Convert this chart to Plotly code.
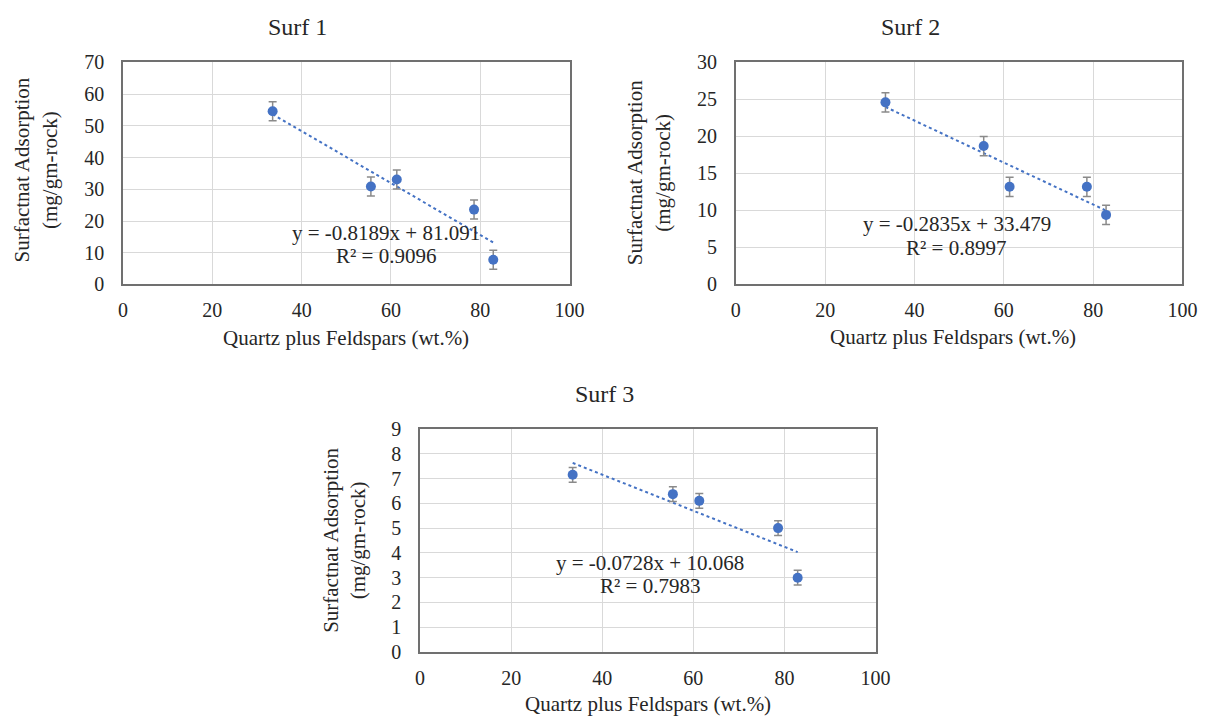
import plotly.graph_objects as go

# ---------------- data ----------------
quartz_feldspar = [33.5, 55.5, 61.3, 78.6, 82.9]

surf1_ads = [54.6, 30.9, 33.1, 23.6, 7.8]
surf1_err = [3.0, 3.0, 3.0, 3.0, 3.0]
surf2_ads = [24.6, 18.7, 13.2, 13.2, 9.4]
surf2_err = [1.3, 1.3, 1.3, 1.3, 1.3]
surf3_ads = [7.15, 6.37, 6.10, 5.00, 3.00]
surf3_err = [0.3, 0.3, 0.3, 0.3, 0.3]

titles = ["Surf 1", "Surf 2", "Surf 3"]
slopes = [-0.8189, -0.2835, -0.0728]
intercepts = [81.091, 33.479, 10.068]
r2 = ["0.9096", "0.8997", "0.7983"]
y_max = [70, 30, 9]
y_step = [10, 5, 1]
x_ticks = [0, 20, 40, 60, 80, 100]

x_title = "Quartz plus Feldspars (wt.%)"
y_title = "Surfactnat Adsorption<br>(mg/gm-rock)"

# ---------------- layout geometry (pixels) ----------------
W, H = 1224, 728
FONT = "Liberation Serif"
BLUE = "#4472C4"
TXT = "#262626"

# plot frames: (left, right, top, bottom)
frames = [(120, 574, 53, 282), (743, 1197, 53, 282), (422, 885, 431, 661)]
title_pos = [(297, 17), (921, 17), (609, 395)]
xtitle_pos = [(347, 337), (964, 336), (654, 715)]
ytitle_pos = [(31, 164), (655, 167), (345, 546)]
eq1_pos = [(387, 229), (968, 220), (656, 569)]
eq2_pos = [(387, 253), (967, 244), (656, 593)]

series = [(surf1_ads, surf1_err), (surf2_ads, surf2_err), (surf3_ads, surf3_err)]


def px(x, y):
    return x / W, 1 - y / H


fig = go.Figure()
annotations = []
layout_axes = {}


def add_text(text, pos, size, angle=0):
    x, y = px(*pos)
    annotations.append(dict(text=text, x=x, y=y, xref="paper", yref="paper",
                            showarrow=False, xanchor="center", yanchor="middle",
                            textangle=angle,
                            font=dict(family=FONT, size=size, color=TXT)))


for i, (ads, err) in enumerate(series):
    n = "" if i == 0 else str(i + 1)
    xa, ya = "x" + n, "y" + n
    l, r, t, b = frames[i]

    # linear trendline from the regression coefficients shown on the chart
    x0, x1 = min(quartz_feldspar), max(quartz_feldspar)
    fig.add_trace(go.Scatter(
        x=[x0, x1],
        y=[slopes[i] * x0 + intercepts[i], slopes[i] * x1 + intercepts[i]],
        mode="lines", line=dict(color=BLUE, width=2, dash="dot"),
        xaxis=xa, yaxis=ya, showlegend=False, hoverinfo="skip"))

    fig.add_trace(go.Scatter(
        x=quartz_feldspar, y=ads, mode="markers",
        marker=dict(color=BLUE, size=10),
        error_y=dict(type="data", array=err, color="#8a8a8a", thickness=1.5, width=4),
        xaxis=xa, yaxis=ya, showlegend=False))

    axis_common = dict(
        showline=True, mirror=True, linecolor="#707070", linewidth=1.5,
        showgrid=True, gridcolor="#d9d9d9", gridwidth=1,
        zeroline=False, ticks="",
        tickfont=dict(family=FONT, size=20, color=TXT),
    )
    layout_axes["xaxis" + n] = dict(
        axis_common, domain=[l / W, r / W], range=[0, 100],
        tickvals=x_ticks, anchor=ya, ticklabelstandoff=7)
    layout_axes["yaxis" + n] = dict(
        axis_common, domain=[1 - b / H, 1 - t / H], range=[0, y_max[i]],
        dtick=y_step[i], tick0=0, anchor=xa, ticklabelstandoff=13)

    add_text(titles[i], title_pos[i], 24)
    add_text(x_title, xtitle_pos[i], 21)
    add_text(y_title, ytitle_pos[i], 21, angle=-90)
    sign = "-" if slopes[i] < 0 else ""
    add_text(f"y = {sign}{abs(slopes[i]):.4f}x + {intercepts[i]:.3f}", eq1_pos[i], 21)
    add_text(f"R² = {r2[i]}", eq2_pos[i], 21)

fig.update_layout(
    width=W, height=H,
    margin=dict(l=0, r=0, t=0, b=0),
    paper_bgcolor="white", plot_bgcolor="white",
    annotations=annotations,
    **layout_axes,
)

fig.write_html("out.html")
